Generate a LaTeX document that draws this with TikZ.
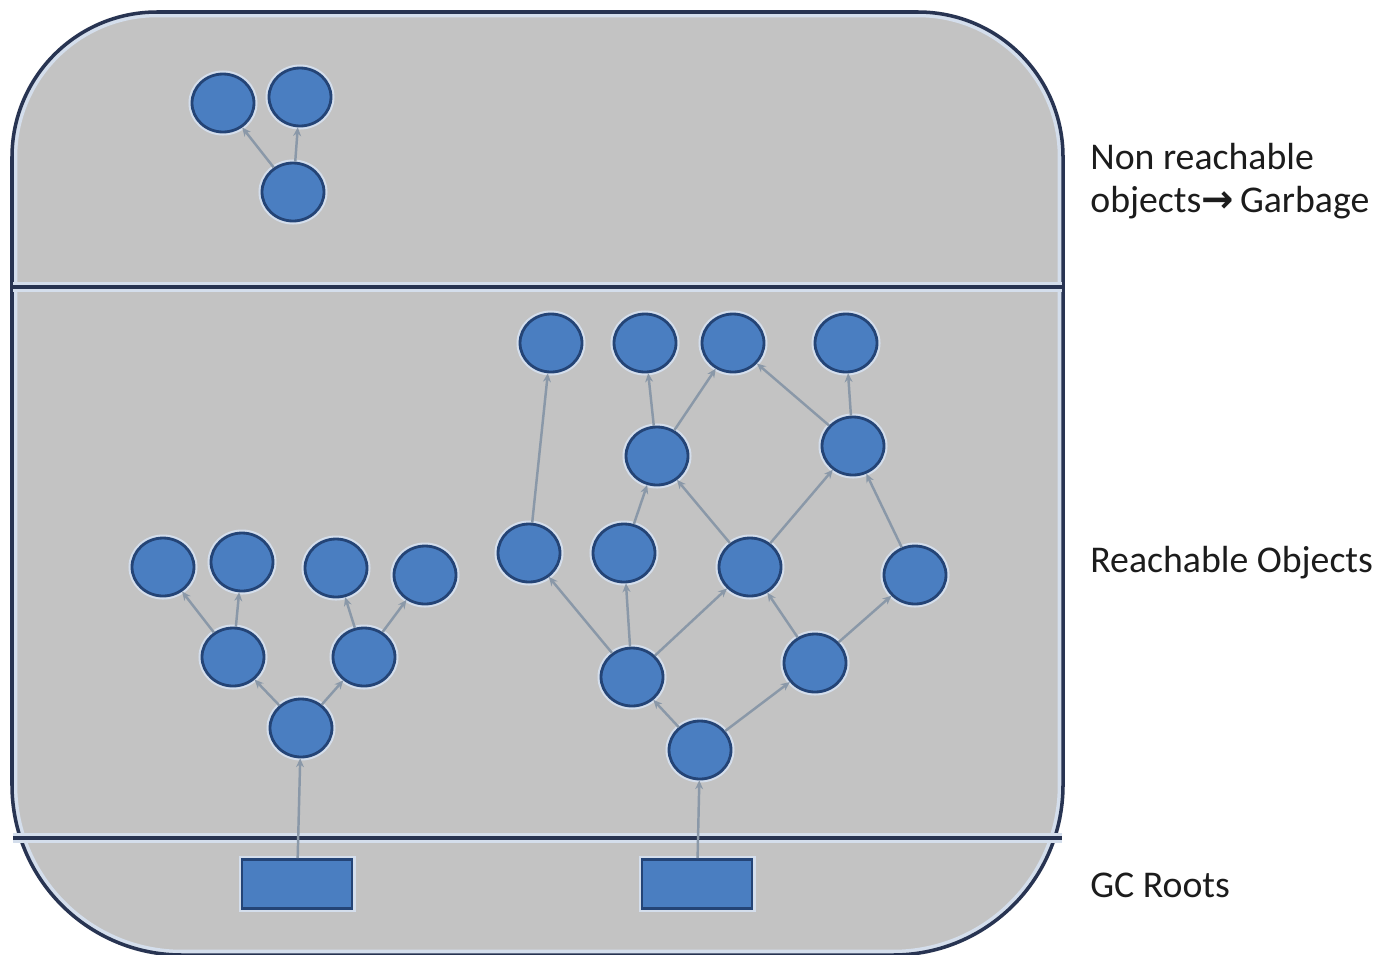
\documentclass[tikz,border=0pt]{standalone}
\usepackage{fontspec}
\setmainfont{Carlito}
\newfontfamily\symfont{DejaVu Sans}
\usetikzlibrary{arrows.meta,shapes.geometric}

\definecolor{panelgray}{RGB}{195,195,195}
\definecolor{framenavy}{RGB}{40,52,82}
\definecolor{halo}{RGB}{212,222,236}
\definecolor{objblue}{RGB}{74,126,193}
\definecolor{objedge}{RGB}{36,68,118}
\definecolor{linkgray}{RGB}{138,152,168}
\definecolor{labelgray}{RGB}{28,28,28}

\tikzset{
  obj/.style={ellipse, minimum width=1.24cm, minimum height=1.16cm, inner sep=0pt,
    fill=objblue, draw=objedge, line width=1.6pt,
    preaction={draw=halo, line width=4pt}},
  rootbox/.style={rectangle, minimum width=2.2cm, minimum height=0.98cm, inner sep=0pt,
    fill=objblue, draw=objedge, line width=1.6pt,
    preaction={draw=halo, line width=4pt}},
  link/.style={draw=linkgray, line width=1.4pt, -{Stealth[length=5pt,width=4.5pt]}},
  divider/.style={draw=framenavy, line width=2.4pt},
  label/.style={anchor=base west, inner sep=0pt, text=labelgray,
    font=\fontsize{21.5}{24.4}\selectfont, align=left}
}

\begin{document}
\begin{tikzpicture}[x=0.02cm, y=-0.02cm]
\useasboundingbox (0,0) rectangle (1385,954);
\fill[white] (0,0) rectangle (1385,954);

% outline of the rounded panel (y axis points down, so angles run clockwise)
\def\panelpath{(12,157) arc[start angle=180, end angle=270, radius=145] -- (918,12)
  arc[start angle=270, end angle=360, radius=145] -- (1063,785)
  arc[start angle=0, end angle=90, radius=170] -- (182,955)
  arc[start angle=90, end angle=180, radius=170] -- cycle}

\begin{scope}
\clip (0,0) rectangle (1385,954);
\fill[panelgray] \panelpath;
\begin{scope}
\clip \panelpath;
\draw[halo, line width=6pt] \panelpath;
\end{scope}
\draw[framenavy, line width=2pt] \panelpath;
\end{scope}

% region boundaries
\draw[halo, line width=6pt] (13,287) -- (1062,287);
\draw[divider] (13,287) -- (1062,287);
\draw[halo, line width=6pt] (13,838) -- (1062,838);
\draw[divider] (13,838) -- (1062,838);

% unreachable group
\node[obj] (a1) at (223,103) {};
\node[obj] (a2) at (300,97) {};
\node[obj] (a3) at (293,192) {};

% left tree
\node[rootbox] (r1) at (297,884) {};
\node[obj] (l0) at (301,728) {};
\node[obj] (l1a) at (233,657) {};
\node[obj] (l1b) at (364,657) {};
\node[obj] (l2a) at (163,567) {};
\node[obj] (l2b) at (242,562) {};
\node[obj] (l2c) at (336,568) {};
\node[obj] (l2d) at (425,575) {};

% right graph
\node[rootbox] (r2) at (697,884) {};
\node[obj] (m0) at (700,750) {};
\node[obj] (m1a) at (632,677) {};
\node[obj] (m1b) at (815,663) {};
\node[obj] (m2a) at (529,553) {};
\node[obj] (m2b) at (624,553) {};
\node[obj] (m2c) at (750,567) {};
\node[obj] (m2d) at (915,575) {};
\node[obj] (m3a) at (657,456) {};
\node[obj] (m3b) at (853,446) {};
\node[obj] (m4a) at (551,343) {};
\node[obj] (m4b) at (645,343) {};
\node[obj] (m4c) at (733,343) {};
\node[obj] (m4d) at (846,343) {};

% references
\draw[link] (a3) -- (a1);
\draw[link] (a3) -- (a2);

\draw[link] (r1) -- (l0);
\draw[link] (l0) -- (l1a);
\draw[link] (l0) -- (l1b);
\draw[link] (l1a) -- (l2a);
\draw[link] (l1a) -- (l2b);
\draw[link] (l1b) -- (l2c);
\draw[link] (l1b) -- (l2d);

\draw[link] (r2) -- (m0);
\draw[link] (m0) -- (m1a);
\draw[link] (m0) -- (m1b);
\draw[link] (m1a) -- (m2a);
\draw[link] (m1a) -- (m2b);
\draw[link] (m1a) -- (m2c);
\draw[link] (m1b) -- (m2c);
\draw[link] (m1b) -- (m2d);
\draw[link] (m2a) -- (m4a);
\draw[link] (m2b) -- (m3a);
\draw[link] (m2c) -- (m3a);
\draw[link] (m2c) -- (m3b);
\draw[link] (m2d) -- (m3b);
\draw[link] (m3a) -- (m4b);
\draw[link] (m3a) -- (m4c);
\draw[link] (m3b) -- (m4c);
\draw[link] (m3b) -- (m4d);

% region labels (base anchor sits on the last line)
\node[label] (lbgarbage) at (1090,212) {Non reachable\\objects{\symfont\bfseries\fontsize{22}{24.4}\selectfont→}\,Garbage};
\node[label] (lbreach) at (1090,572) {Reachable Objects};
\node[label] (lbroots) at (1090,897) {GC Roots};
\end{tikzpicture}
\end{document}
